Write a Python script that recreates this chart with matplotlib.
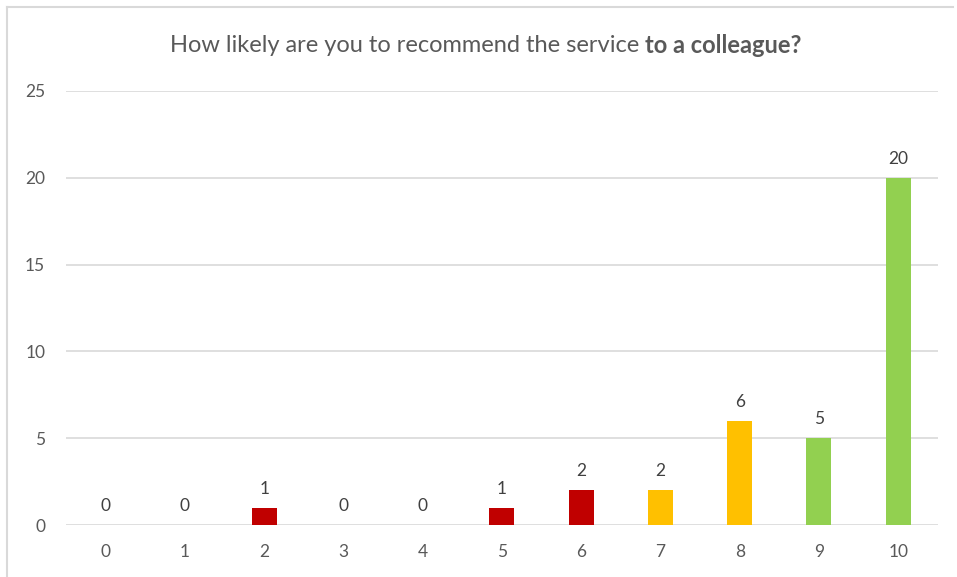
import matplotlib
matplotlib.use('Agg')
import matplotlib.pyplot as plt
from matplotlib.lines import Line2D

# scores and how many answers each got
scores = ['0', '1', '2', '3', '4', '5', '6', '7', '8', '9', '10']
counts = [0, 0, 1, 0, 0, 1, 2, 2, 6, 5, 20]
yticks = [0, 5, 10, 15, 20, 25]

RED = '#C00000'
AMBER = '#FFC000'
GREEN = '#92D050'
TEXT = '#595959'
GRID = '#D9D9D9'

def bar_colour(s):
	s = int(s)
	if s <= 6:
		return RED
	if s <= 8:
		return AMBER
	return GREEN

plt.rcParams['font.family'] = ['Lato', 'DejaVu Sans']

fig = plt.figure(figsize=(9.57, 5.77), dpi=100)
ax = fig.add_axes([0.069, 0.0901, 0.911, 0.7522])

x = range(len(scores))
bars = ax.bar(x, counts, width=0.315, color=[bar_colour(s) for s in scores], zorder=3)
for xi, c in zip(x, counts):
	ax.annotate(str(c), (xi, c), xytext=(0, 8), textcoords='offset points',
		ha='center', va='bottom', fontsize=12.5, color='#404040')

ax.set_xlim(-0.5, len(scores) - 0.5)
ax.set_ylim(0, 25)
ax.set_yticks(yticks)
ax.set_xticks(list(x))
ax.set_xticklabels(scores)
ax.tick_params(axis='both', length=0, labelsize=12.5, colors=TEXT)
ax.tick_params(axis='x', pad=14)
ax.tick_params(axis='y', pad=15)
ax.grid(axis='y', color=GRID, linewidth=1.2, zorder=0)
for sp in ax.spines.values():
	sp.set_visible(False)

# title with the last words in bold, centred by hand
fig.canvas.draw()
r = fig.canvas.get_renderer()
t1 = fig.text(0, 0.922, 'How likely are you to recommend the service ', fontsize=17,
	color=TEXT, va='center')
t2 = fig.text(0, 0.922, 'to a colleague?', fontsize=17, color=TEXT,
	fontweight='bold', va='center')
w1 = t1.get_window_extent(r).width
w2 = t2.get_window_extent(r).width
x0 = 486 - (w1 + w2) / 2
t1.set_x(x0 / fig.bbox.width)
t2.set_x((x0 + w1) / fig.bbox.width)

# chart frame, top and left edges
fig.add_artist(Line2D([6.5 / 957, 6.5 / 957], [0, 1 - 6.5 / 577], color=GRID, lw=1.5))
fig.add_artist(Line2D([6.5 / 957, 953 / 957], [1 - 6.5 / 577, 1 - 6.5 / 577], color=GRID, lw=1.5))

fig.savefig('out.png', dpi=100)
